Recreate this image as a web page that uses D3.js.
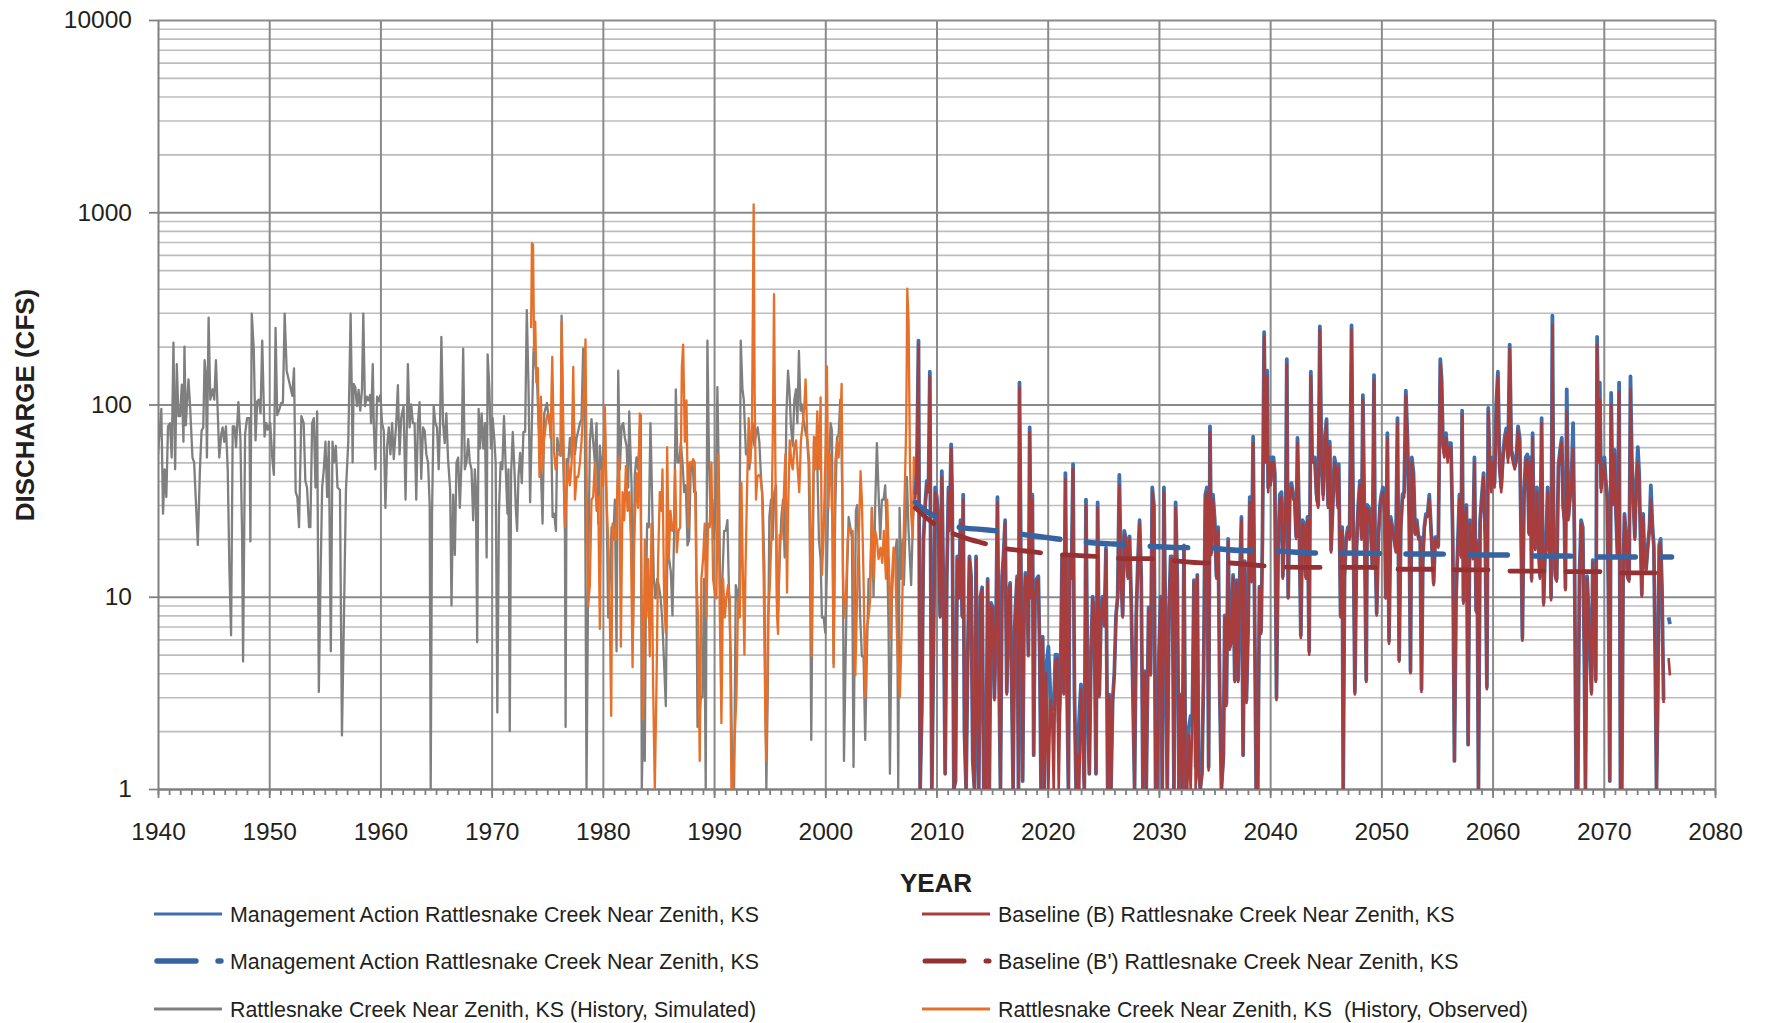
<!DOCTYPE html>
<html lang="en">
<head>
<meta charset="UTF-8">
<title>Rattlesnake Creek Near Zenith, KS - discharge</title>
<style>
    body { margin: 0; background: #fff; }
    svg { display: block; font-family: "Liberation Sans", Arial, sans-serif; }
</style>
</head>
<body>
<div id="chart"></div>
<script src="https://cdn.jsdelivr.net/npm/d3@7"></script>
<script>
// ---- data (monthly-ish flows, cfs) ----
const yTickValues = [1, 10, 100, 1000, 10000];
const xTickYears = [1940, 1950, 1960, 1970, 1980, 1990, 2000, 2010, 2020, 2030, 2040, 2050, 2060, 2070, 2080];

// Rattlesnake Creek Near Zenith, KS (History, Simulated)
const simulated = [
[1940.00,55],[1940.30,95],[1940.45,27],[1940.60,46],[1940.75,33],[1940.90,77],[1941.08,80],[1941.23,53],[1941.39,210],[1941.54,46],[1941.69,162],[1941.84,87],[1941.99,87],[1942.14,127],[1942.29,64],[1942.38,200],[1942.50,78],[1942.59,97],[1942.74,135],[1942.89,97],
[1943.10,53],[1943.25,50],[1943.40,32],[1943.58,18.6],[1943.77,46],[1943.92,73],[1944.07,76],[1944.19,170],[1944.31,144],[1944.40,53],[1944.55,283],[1944.70,106],[1944.91,120],[1945.06,106],[1945.21,170],[1945.36,95],[1945.51,53],[1945.69,70],[1945.81,76],[1945.96,64],
[1946.11,77],[1946.27,46],[1946.42,14],[1946.57,6.3],[1946.72,77],[1946.87,77],[1947.02,60],[1947.23,103],[1947.41,66],[1947.56,21],[1947.65,4.6],[1947.83,70],[1948.01,85],[1948.22,85],[1948.31,19.4],[1948.43,297],[1948.61,195],[1948.77,65],[1948.92,104],[1949.07,106],
[1949.22,90],[1949.37,215],[1949.58,68],[1949.73,80],[1949.88,74],[1950.09,80],[1950.27,53],[1950.42,43],[1950.57,250],[1950.72,88],[1950.93,95],[1951.08,102],[1951.23,102],[1951.39,297],[1951.57,150],[1951.84,128],[1952.08,111],[1952.23,154],[1952.38,35],[1952.53,33],
[1952.68,23],[1952.89,87],[1953.10,80],[1953.25,40],[1953.40,37],[1953.58,23],[1953.70,23],[1953.86,80],[1954.01,85],[1954.16,37],[1954.31,92],[1954.46,3.2],[1954.61,12],[1954.76,37],[1954.91,46],[1955.06,64],[1955.21,33],[1955.36,64],[1955.54,5.2],[1955.69,64],
[1955.84,50],[1955.99,61],[1956.14,37],[1956.36,36],[1956.54,1.9],[1956.72,7.9],[1956.90,36],[1957.11,64],[1957.32,297],[1957.42,120],[1957.50,50],[1957.59,128],[1957.74,123],[1957.89,98],[1958.04,119],[1958.19,93],[1958.34,119],[1958.46,297],[1958.61,98],[1958.77,110],
[1958.92,105],[1959.07,112],[1959.16,80],[1959.31,162],[1959.40,80],[1959.55,46],[1959.70,110],[1959.85,104],[1960.00,112],[1960.15,80],[1960.30,73],[1960.45,29],[1960.60,60],[1960.75,76],[1960.90,55],[1961.05,80],[1961.20,52],[1961.42,80],[1961.57,126],[1961.72,55],
[1961.87,85],[1962.08,98],[1962.26,32],[1962.47,162],[1962.62,76],[1962.77,100],[1962.92,80],[1963.07,80],[1963.22,32],[1963.37,80],[1963.52,103],[1963.67,41],[1963.83,76],[1963.98,73],[1964.13,55],[1964.28,50],[1964.43,30],[1964.52,1],[1964.64,27],[1964.79,98],
[1964.94,80],[1965.09,76],[1965.24,46],[1965.36,80],[1965.48,225],[1965.63,80],[1965.78,63],[1965.93,90],[1966.08,52],[1966.27,36],[1966.39,9],[1966.54,34],[1966.69,16.5],[1966.84,50],[1966.99,53],[1967.14,29],[1967.29,50],[1967.44,195],[1967.59,46],[1967.74,50],
[1967.89,66],[1968.04,50],[1968.19,46],[1968.34,25],[1968.49,46],[1968.58,37],[1968.70,5.8],[1968.83,95],[1968.95,59],[1969.10,90],[1969.25,59],[1969.40,80],[1969.55,16],[1969.64,182],[1969.79,123],[1969.94,59],[1970.09,85],[1970.24,66],[1970.36,50],[1970.51,2.5],
[1970.66,28],[1970.81,50],[1970.96,46],[1971.11,87],[1971.27,46],[1971.42,27],[1971.51,46],[1971.63,2.0],[1971.75,44],[1971.90,72],[1972.05,46],[1972.17,29],[1972.29,22],[1972.41,42],[1972.56,56],[1972.71,39],[1972.86,72],[1973.01,72],[1973.16,310],[1973.31,128],
[1973.46,31],[1973.77,195],[1974.07,140],[1974.22,80],[1974.46,40],[1974.58,24],[1974.73,90],[1974.97,102],[1975.18,80],[1975.33,88],[1975.48,26],[1975.63,27],[1975.78,22],[1975.90,67],[1976.05,59],[1976.20,54],[1976.29,290],[1976.44,50],[1976.59,22],[1976.65,2.1],
[1976.74,52],[1976.89,50],[1977.04,67],[1977.19,53],[1977.34,106],[1977.49,55],[1977.64,67],[1977.79,73],[1977.94,80],[1978.08,84],[1978.23,195],[1978.38,80],[1978.53,1],[1978.68,12.4],[1978.83,64],[1978.98,84],[1979.13,64],[1979.28,50],[1979.43,80],[1979.58,24],
[1979.73,61],[1979.88,46],[1980.03,55],[1980.18,80],[1980.33,32],[1980.48,7.8],[1980.63,12.4],[1980.78,23],[1980.93,19.8],[1981.08,32],[1981.23,5.2],[1981.38,150],[1981.53,46],[1981.68,77],[1981.83,80],[1981.98,67],[1982.13,61],[1982.28,37],[1982.37,92],[1982.49,55],
[1982.58,38],[1982.72,7],[1982.87,43],[1983.02,53],[1983.17,46],[1983.32,73],[1983.41,88],[1983.50,1],[1983.62,2.3],[1983.77,1.4],[1983.86,8.5],[1983.98,24],[1984.13,23],[1984.28,80],[1984.43,32],[1984.58,12.4],[1984.73,9.8],[1984.88,12.4],[1985.03,11.5],[1985.18,10],
[1985.33,7.8],[1985.48,4.9],[1985.66,2.7],[1985.81,19.8],[1985.96,15.7],[1986.11,13.5],[1986.26,8],[1986.41,22],[1986.56,120],[1986.71,50],[1986.86,50],[1987.01,63],[1987.16,50],[1987.31,35],[1987.46,38],[1987.61,18.5],[1987.76,19.8],[1987.91,50],[1988.06,50],[1988.21,35],
[1988.36,35],[1988.51,2.1],[1988.66,2.3],[1988.81,3],[1988.96,3],[1989.10,12.4],[1989.25,1],[1989.40,215],[1989.55,50],[1989.70,24],[1989.85,32],[1990.00,20],[1990.15,29],[1990.30,123],[1990.45,35],[1990.60,6],[1990.75,12.4],[1990.90,22],[1991.05,22],[1991.20,25],
[1991.35,10],[1991.50,4.9],[1991.65,1],[1991.80,1],[1991.95,11.5],[1992.10,10.5],[1992.25,8],[1992.40,215],[1992.55,121],[1992.67,106],[1992.87,55],[1993.02,55],[1993.17,46],[1993.32,58],[1993.47,80],[1993.62,61],[1993.77,70],[1993.92,76],[1994.07,64],[1994.22,42],
[1994.37,32],[1994.52,14.5],[1994.61,3],[1994.70,1],[1994.82,3],[1994.97,26],[1995.12,32],[1995.27,19.8],[1995.42,35],[1995.57,38],[1995.66,9.5],[1995.75,8.2],[1995.90,15.7],[1996.05,26],[1996.20,32],[1996.35,16],[1996.50,88],[1996.65,150],[1996.77,120],[1996.92,76],
[1997.07,61],[1997.22,106],[1997.37,120],[1997.49,80],[1997.63,190],[1997.78,93],[1997.90,100],[1998.05,83],[1998.20,73],[1998.35,67],[1998.50,50],[1998.62,16],[1998.74,1.8],[1998.86,12.4],[1998.98,64],[1999.13,67],[1999.28,50],[1999.43,19.8],[1999.58,15.7],[1999.70,7.8],
[1999.85,7.8],[2000.00,6.5],[2000.15,14],[2000.30,44],[2000.48,80],[2000.60,73],[2000.75,4.5],[2000.90,29],[2001.05,67],[2001.20,70],[2001.35,106],[2001.44,70],[2001.56,26],[2001.68,1.4],[2001.80,3.9],[2001.95,12.4],[2002.10,26],[2002.25,23],[2002.40,20],[2002.54,1.3],
[2002.63,4.9],[2002.75,28],[2002.87,30],[2002.99,20],[2003.14,7.8],[2003.29,4.9],[2003.44,4.9],[2003.59,1.8],[2003.74,4.9],[2003.89,12.4],[2004.04,12.4],[2004.19,29],[2004.34,10],[2004.49,30],[2004.64,63],[2004.79,35],[2004.94,20],[2005.09,32],[2005.24,32],[2005.39,38],
[2005.54,20],[2005.69,6.8],[2005.81,1.2],[2005.99,9.8],[2006.14,15.7],[2006.29,17.5],[2006.44,19.8],[2006.56,1],[2006.68,29],[2006.83,12.4],[2006.98,19.8],[2007.07,11.5],[2007.19,19.8],[2007.34,42],[2007.49,22],[2007.72,11.5],[2007.87,24],[2007.99,32]
];

// Rattlesnake Creek Near Zenith, KS (History, Observed)
const observed = [
[1973.55,250],[1973.62,690],[1973.72,680],[1973.82,190],[1973.92,270],[1974.02,130],[1974.15,155],[1974.30,42],[1974.43,110],[1974.58,46],[1974.70,64],[1974.88,80],[1975.00,88],[1975.18,88],[1975.30,67],[1975.45,177],[1975.60,58],[1975.75,46],[1975.90,55],[1976.05,55],
[1976.20,55],[1976.29,270],[1976.44,80],[1976.59,23],[1976.74,35],[1976.89,49],[1977.04,38],[1977.19,50],[1977.34,157],[1977.49,32],[1977.64,42],[1977.79,42],[1977.94,50],[1978.08,64],[1978.23,92],[1978.44,218],[1978.59,19.8],[1978.68,9],[1978.83,11.5],[1978.98,32],
[1979.13,33],[1979.28,50],[1979.43,28],[1979.58,33],[1979.73,6.8],[1979.88,46],[1980.03,38],[1980.18,97],[1980.33,32],[1980.48,19.8],[1980.63,7.8],[1980.75,2.4],[1980.87,24],[1981.02,22],[1981.17,19.8],[1981.32,38],[1981.47,53],[1981.62,5.5],[1981.77,35],[1981.92,25],
[1982.07,48],[1982.22,28],[1982.37,35],[1982.52,19.8],[1982.67,4.3],[1982.82,19.8],[1983.02,44],[1983.17,29],[1983.32,90],[1983.47,12.4],[1983.62,2.3],[1983.77,19.8],[1983.92,7.8],[1984.07,15.7],[1984.22,4.9],[1984.37,24],[1984.52,3.4],[1984.67,1],[1984.82,3.4],[1984.97,15.7],
[1985.12,35],[1985.27,28],[1985.36,46],[1985.51,9.8],[1985.66,6.5],[1985.78,60],[1985.93,15.7],[1986.08,28],[1986.23,22],[1986.38,23],[1986.50,46],[1986.65,17],[1986.80,22],[1986.95,23],[1987.10,155],[1987.22,205],[1987.37,64],[1987.52,105],[1987.67,23],[1987.81,50],
[1987.96,48],[1988.11,52],[1988.26,50],[1988.41,12.4],[1988.56,7.8],[1988.71,1.4],[1988.86,12.4],[1989.01,15.7],[1989.16,24],[1989.31,7.8],[1989.46,24],[1989.61,23],[1989.76,50],[1989.91,12.4],[1990.06,10.5],[1990.21,9.8],[1990.36,55],[1990.51,8.5],[1990.66,2.2],[1990.81,12.4],
[1990.96,7.8],[1991.11,9.8],[1991.26,11.5],[1991.41,9.8],[1991.56,1],[1991.71,1],[1991.86,1.9],[1992.01,3],[1992.16,9.8],[1992.31,7.8],[1992.46,39],[1992.61,11],[1992.73,5],[1992.81,12.4],[1992.96,35],[1993.11,85],[1993.26,50],[1993.41,80],[1993.56,1100],[1993.65,110],
[1993.77,32],[1993.89,42],[1994.01,43],[1994.16,42],[1994.31,35],[1994.46,12.4],[1994.61,2.4],[1994.70,1.4],[1994.85,7.8],[1995.00,11],[1995.15,20],[1995.30,85],[1995.39,375],[1995.51,50],[1995.66,8],[1995.75,6.4],[1995.90,21],[1996.05,20],[1996.26,32],[1996.41,55],
[1996.56,10.5],[1996.65,27],[1996.80,65],[1996.95,50],[1997.07,46],[1997.22,60],[1997.37,65],[1997.52,46],[1997.66,35],[1997.81,65],[1997.96,78],[1998.11,97],[1998.23,135],[1998.38,68],[1998.56,50],[1998.68,19.8],[1998.77,4.9],[1998.86,19.8],[1998.98,68],[1999.13,46],
[1999.28,92],[1999.43,46],[1999.58,109],[1999.70,13],[1999.85,21],[2000.00,50],[2000.15,158],[2000.27,29],[2000.42,55],[2000.54,38],[2000.63,25],[2000.75,4.3],[2000.90,50],[2001.05,64],[2001.20,53],[2001.35,78],[2001.47,128],[2001.59,13],[2001.71,7.8],[2001.86,10],
[2002.01,19.8],[2002.16,23],[2002.31,22],[2002.46,22],[2002.58,10.5],[2002.70,3.9],[2002.87,10.5],[2003.02,21],[2003.17,45],[2003.29,32],[2003.44,12.4],[2003.59,3],[2003.74,7],[2003.89,7.8],[2004.04,9.8],[2004.19,29],[2004.37,12.4],[2004.49,22],[2004.64,19.8],[2004.79,15.7],
[2004.97,18],[2005.12,15],[2005.27,22],[2005.45,12.4],[2005.57,32],[2005.75,12.4],[2005.87,6.1],[2005.99,12.4],[2006.14,18],[2006.29,15.5],[2006.44,6.4],[2006.59,3.9],[2006.71,3],[2006.89,7.8],[2007.04,20],[2007.19,46],[2007.28,80],[2007.37,400],[2007.49,270],[2007.61,50],
[2007.72,27],[2007.87,20],[2007.96,53],[2008.08,38]
];

// Baseline (B) Rattlesnake Creek Near Zenith, KS
const baseline = [
[2008.08,32],[2008.23,42],[2008.38,204],[2008.53,1],[2008.68,2.5],[2008.83,19.8],[2008.98,29],[2009.13,38],[2009.28,35],[2009.40,140],[2009.50,7.8],[2009.58,1],[2009.73,5.2],[2009.88,35],[2010.03,31],[2010.18,22],[2010.33,7.8],[2010.48,42],[2010.63,9.8],[2010.78,1.2],
[2010.93,12.4],[2011.08,35],[2011.17,22],[2011.32,59],[2011.41,32],[2011.56,1],[2011.71,1.1],[2011.86,15.7],[2012.01,9.8],[2012.16,24],[2012.31,7.8],[2012.40,32],[2012.51,1.95],[2012.66,1],[2012.81,4.9],[2012.96,15.7],[2013.11,12.4],[2013.26,1.4],[2013.41,1],[2013.56,15.7],
[2013.65,3],[2013.80,1],[2013.95,9.8],[2014.10,10.9],[2014.25,1],[2014.46,1],[2014.60,12],[2014.75,1],[2014.90,9],[2015.06,8.5],[2015.21,2.9],[2015.36,7.8],[2015.48,31],[2015.60,4.9],[2015.75,1],[2015.90,12.4],[2016.02,15.7],[2016.17,24],[2016.32,3.1],[2016.47,9.8],
[2016.62,11.5],[2016.77,3.1],[2016.89,1],[2017.01,6.1],[2017.10,8.5],[2017.25,12.4],[2017.37,1],[2017.46,123],[2017.60,12.4],[2017.75,1.1],[2017.87,7.8],[2017.99,12.9],[2018.14,12.4],[2018.26,4.9],[2018.38,72],[2018.50,9.8],[2018.62,32],[2018.74,1.5],[2018.86,9.8],[2019.01,12],
[2019.16,12.4],[2019.28,4.9],[2019.40,1],[2019.55,6],[2019.70,1],[2019.85,4],[2020.06,1],[2020.24,2.9],[2020.39,2.5],[2020.54,1],[2020.69,4.6],[2020.84,4.8],[2020.99,1],[2021.14,3.2],[2021.29,16],[2021.44,3.1],[2021.59,41],[2021.74,3.1],[2021.86,1],[2021.98,15.7],
[2022.13,12.4],[2022.28,46],[2022.40,3.2],[2022.55,1],[2022.70,1.5],[2022.84,1],[2022.99,3.3],[2023.14,1.9],[2023.29,1],[2023.44,30],[2023.59,3],[2023.74,1.2],[2023.89,4.9],[2024.04,9.8],[2024.19,7.8],[2024.34,1.2],[2024.49,29],[2024.64,3],[2024.79,7.8],[2024.94,9.8],
[2025.09,7],[2025.24,17.5],[2025.39,1],[2025.54,3],[2025.69,1],[2025.84,2.8],[2025.99,3.9],[2026.14,7.8],[2026.29,9.8],[2026.44,38],[2026.59,12.4],[2026.74,7.8],[2026.89,21],[2027.06,19],[2027.21,12.4],[2027.36,20],[2027.51,9.2],[2027.66,3.05],[2027.81,1],[2027.96,7.8],
[2028.11,15],[2028.26,24],[2028.41,12.4],[2028.56,1],[2028.71,4],[2028.86,1],[2029.07,8.5],[2029.25,3.9],[2029.40,35],[2029.55,29],[2029.70,1],[2029.85,1],[2030.00,4.9],[2030.15,9.8],[2030.30,1],[2030.45,35],[2030.60,6.1],[2030.75,1],[2030.90,7.8],[2031.05,15.7],
[2031.20,15.7],[2031.35,1],[2031.50,29],[2031.65,12.4],[2031.80,1],[2031.95,3.05],[2032.10,1],[2032.25,18],[2032.40,1],[2032.55,1],[2032.70,1.9],[2032.85,1],[2033.00,2.2],[2033.15,11.9],[2033.30,1],[2033.45,12.7],[2033.57,1.2],[2033.72,1],[2033.87,1.2],[2034.02,4.1],
[2034.17,32],[2034.32,35],[2034.47,1.25],[2034.59,72],[2034.71,16.5],[2034.86,32],[2035.02,24],[2035.17,12.4],[2035.32,22],[2035.47,3.05],[2035.62,1],[2035.80,1.4],[2035.92,7.8],[2036.07,2.7],[2036.22,19.4],[2036.37,5.3],[2036.52,5.8],[2036.67,12.6],[2036.82,3.6],[2036.97,11.9],
[2037.12,3.6],[2037.27,12.4],[2037.42,25],[2037.57,1.5],[2037.72,14.9],[2037.87,2.8],[2038.02,6.7],[2038.17,31],[2038.32,11.9],[2038.47,63],[2038.62,6.5],[2038.74,1],[2038.89,1],[2039.04,11],[2039.19,6.4],[2039.31,19.8],[2039.46,224],[2039.58,50],[2039.73,140],[2039.82,35],
[2039.94,50],[2040.06,38],[2040.18,50],[2040.30,50],[2040.42,42],[2040.57,2.9],[2040.72,17],[2040.87,32],[2041.02,33],[2041.14,12.4],[2041.26,19.8],[2041.41,32],[2041.50,162],[2041.62,9.8],[2041.77,32],[2041.92,37],[2042.07,32],[2042.19,32],[2042.34,20],[2042.46,63],
[2042.61,24],[2042.76,6.1],[2042.91,24],[2043.06,23],[2043.21,12.4],[2043.36,25],[2043.51,5],[2043.66,140],[2043.78,50],[2043.93,50],[2044.02,50],[2044.17,32],[2044.32,29],[2044.47,245],[2044.62,50],[2044.77,32],[2044.92,63],[2045.07,80],[2045.21,29],[2045.36,61],
[2045.48,17],[2045.63,29],[2045.78,50],[2045.93,46],[2046.08,29],[2046.17,47],[2046.33,7.8],[2046.48,22],[2046.57,1],[2046.69,12.4],[2046.84,19.8],[2046.99,22],[2047.14,19.8],[2047.32,245],[2047.47,24],[2047.62,3.1],[2047.77,17.5],[2047.92,29],[2048.07,38],[2048.22,19.8],
[2048.34,106],[2048.49,22],[2048.64,3.6],[2048.73,29],[2048.89,28],[2049.04,22],[2049.19,14],[2049.34,134],[2049.43,19.8],[2049.58,8],[2049.73,19.8],[2049.88,29],[2050.00,32],[2050.15,35],[2050.30,26],[2050.39,9.8],[2050.54,67],[2050.69,5.7],[2050.84,25],[2050.99,22],
[2051.14,19.8],[2051.30,17],[2051.45,80],[2051.60,4.6],[2051.75,22],[2051.90,32],[2052.05,33],[2052.20,111],[2052.35,64],[2052.50,25],[2052.62,4],[2052.74,50],[2052.89,42],[2053.04,21],[2053.19,24],[2053.34,19.8],[2053.49,19.8],[2053.61,3.2],[2053.73,15],[2053.86,22],
[2054.01,26],[2054.16,26],[2054.31,32],[2054.46,22],[2054.61,15],[2054.70,11.5],[2054.85,19.8],[2055.00,19.8],[2055.12,18],[2055.30,162],[2055.42,128],[2055.54,60],[2055.66,53],[2055.81,67],[2055.96,50],[2056.11,60],[2056.26,60],[2056.42,19.8],[2056.57,1.4],[2056.72,9.8],
[2056.87,18],[2057.02,32],[2057.17,16],[2057.26,88],[2057.38,9.2],[2057.53,26],[2057.65,29],[2057.80,1.7],[2057.95,24],[2058.07,19],[2058.22,15.7],[2058.37,50],[2058.52,8.3],[2058.61,19],[2058.73,1],[2058.88,24],[2059.04,32],[2059.19,42],[2059.34,19.8],[2059.49,3.3],
[2059.61,91],[2059.73,50],[2059.88,35],[2060.03,50],[2060.18,37],[2060.33,95],[2060.48,140],[2060.63,46],[2060.78,35],[2060.93,50],[2061.08,64],[2061.23,71],[2061.39,50],[2061.54,195],[2061.69,55],[2061.84,50],[2061.99,46],[2062.14,50],[2062.29,73],[2062.44,64],
[2062.59,16],[2062.68,5.9],[2062.83,32],[2062.98,50],[2063.13,52],[2063.27,21],[2063.39,50],[2063.51,12],[2063.60,67],[2063.72,19.8],[2063.84,17.5],[2063.99,35],[2064.11,19],[2064.26,12.4],[2064.41,80],[2064.50,19.8],[2064.59,9],[2064.71,15.7],[2064.83,19.8],[2064.95,35],
[2065.05,17],[2065.17,24],[2065.26,9.6],[2065.38,258],[2065.50,19.8],[2065.65,12.4],[2065.77,12],[2065.92,46],[2066.07,55],[2066.22,64],[2066.34,29],[2066.46,24],[2066.55,10.8],[2066.67,92],[2066.82,25],[2066.97,32],[2067.09,38],[2067.24,59],[2067.36,19.8],[2067.51,1],
[2067.66,1],[2067.81,12.4],[2067.96,24],[2068.11,22],[2068.26,4.2],[2068.35,1],[2068.50,12.4],[2068.65,7.8],[2068.77,4.9],[2068.89,3.1],[2069.01,15],[2069.16,10.5],[2069.28,3.6],[2069.40,204],[2069.52,50],[2069.64,106],[2069.76,35],[2069.91,43],[2070.06,50],[2070.18,38],
[2070.30,32],[2070.42,9.8],[2070.54,1.1],[2070.66,100],[2070.81,30],[2070.96,55],[2071.08,28],[2071.23,16],[2071.38,116],[2071.50,1],[2071.62,1],[2071.74,12.4],[2071.86,26],[2072.01,19.8],[2072.13,12.4],[2072.28,12],[2072.40,120],[2072.52,50],[2072.64,32],[2072.79,19.8],
[2072.91,35],[2073.06,50],[2073.18,42],[2073.30,19.8],[2073.42,10],[2073.54,26],[2073.66,15.5],[2073.81,13.5],[2073.96,18],[2074.11,22],[2074.23,32],[2074.38,22],[2074.50,18],[2074.62,4.9],[2074.74,1],[2074.86,3.05],[2074.98,18],[2075.11,19],[2075.23,11],[2075.38,2.8],
[2075.60,null],[2075.83,4.8],[2075.95,3.9]
];

// Management Action Rattlesnake Creek Near Zenith, KS
const action = [
[2008.08,34],[2008.23,44],[2008.38,215],[2008.53,1],[2008.68,2.6],[2008.83,20],[2008.98,30],[2009.13,40],[2009.28,37],[2009.40,148],[2009.50,8],[2009.58,1],[2009.73,5.4],[2009.88,37],[2010.03,33],[2010.18,23],[2010.33,8],[2010.48,45],[2010.63,10],[2010.78,1.2],
[2010.93,12.8],[2011.08,37],[2011.17,23],[2011.32,62],[2011.41,34],[2011.56,1],[2011.71,1.1],[2011.86,16.2],[2012.01,10],[2012.16,25],[2012.31,8],[2012.40,34],[2012.51,2],[2012.66,1],[2012.81,5],[2012.96,16.2],[2013.11,12.8],[2013.26,1.4],[2013.41,1],[2013.56,16.2],
[2013.65,3.1],[2013.80,1],[2013.95,10],[2014.10,11.2],[2014.25,1],[2014.46,1],[2014.60,12.4],[2014.75,1],[2014.90,9.3],[2015.06,8.8],[2015.21,3],[2015.36,8],[2015.48,33],[2015.60,5],[2015.75,1],[2015.90,12.8],[2016.02,16.2],[2016.17,25],[2016.32,3.2],[2016.47,10],
[2016.62,11.8],[2016.77,3.2],[2016.89,1],[2017.01,6.3],[2017.10,8.8],[2017.25,12.8],[2017.37,1],[2017.46,130],[2017.60,12.8],[2017.75,1.1],[2017.87,8],[2017.99,13.3],[2018.14,12.8],[2018.26,5],[2018.38,76],[2018.50,10],[2018.62,34],[2018.74,1.5],[2018.86,10],[2019.01,12.4],
[2019.16,12.8],[2019.28,5],[2019.40,1],[2019.55,6.2],[2019.70,1],[2019.85,4.2],[2020.06,5.5],[2020.24,3.1],[2020.39,2.7],[2020.54,2.6],[2020.69,5],[2020.84,5],[2020.99,2.2],[2021.14,3.4],[2021.29,16.5],[2021.44,3.2],[2021.59,44],[2021.74,3.2],[2021.86,1],[2021.98,16.2],
[2022.13,12.8],[2022.28,49],[2022.40,3.3],[2022.55,1],[2022.70,1.6],[2022.84,2.4],[2022.99,3.5],[2023.14,2.2],[2023.29,1],[2023.44,32],[2023.59,3.1],[2023.74,1.2],[2023.89,5],[2024.04,10],[2024.19,8],[2024.34,1.2],[2024.49,31],[2024.64,3.1],[2024.79,8],[2024.94,10],
[2025.09,7.2],[2025.24,18],[2025.39,1],[2025.54,3.1],[2025.69,1],[2025.84,2.9],[2025.99,4],[2026.14,8],[2026.29,10],[2026.44,43],[2026.59,12.8],[2026.74,8],[2026.89,22],[2027.06,19.6],[2027.21,12.8],[2027.36,20.6],[2027.51,9.5],[2027.66,3.1],[2027.81,1],[2027.96,8],
[2028.11,15.5],[2028.26,25],[2028.41,12.8],[2028.56,1],[2028.71,4.1],[2028.86,1],[2029.07,8.8],[2029.25,4],[2029.40,37],[2029.55,30],[2029.70,1],[2029.85,1],[2030.00,5],[2030.15,10],[2030.30,1],[2030.45,37],[2030.60,6.3],[2030.75,1],[2030.90,8],[2031.05,16.2],
[2031.20,16.2],[2031.35,1],[2031.50,31],[2031.65,12.8],[2031.80,1],[2031.95,3.1],[2032.10,1],[2032.25,18.5],[2032.40,1],[2032.55,1.3],[2032.70,2.1],[2032.85,2.4],[2033.00,2.3],[2033.15,12.2],[2033.30,1.3],[2033.45,13],[2033.57,1.2],[2033.72,1],[2033.87,1.2],[2034.02,4.2],
[2034.17,34],[2034.32,37],[2034.47,1.3],[2034.59,77],[2034.71,17],[2034.86,34],[2035.02,25],[2035.17,12.8],[2035.32,23],[2035.47,3.1],[2035.62,1],[2035.80,1.5],[2035.92,8],[2036.07,2.8],[2036.22,20],[2036.37,5.5],[2036.52,6],[2036.67,13],[2036.82,3.7],[2036.97,12.2],
[2037.12,3.7],[2037.27,12.8],[2037.42,26],[2037.57,1.5],[2037.72,15.3],[2037.87,2.9],[2038.02,6.9],[2038.17,33],[2038.32,12.2],[2038.47,68],[2038.62,6.7],[2038.74,1],[2038.89,1],[2039.04,11.3],[2039.19,6.6],[2039.31,20.4],[2039.46,238],[2039.58,53],[2039.73,150],[2039.82,37],
[2039.94,53],[2040.06,40],[2040.18,53],[2040.30,53],[2040.42,44],[2040.57,3],[2040.72,17.5],[2040.87,34],[2041.02,35],[2041.14,12.8],[2041.26,20.4],[2041.41,34],[2041.50,172],[2041.62,10],[2041.77,34],[2041.92,39],[2042.07,34],[2042.19,34],[2042.34,20.6],[2042.46,67],
[2042.61,25],[2042.76,6.3],[2042.91,25],[2043.06,24],[2043.21,12.8],[2043.36,26],[2043.51,5.2],[2043.66,148],[2043.78,53],[2043.93,53],[2044.02,53],[2044.17,34],[2044.32,30],[2044.47,255],[2044.62,53],[2044.77,34],[2044.92,67],[2045.07,84],[2045.21,30],[2045.36,64],
[2045.48,17.5],[2045.63,30],[2045.78,53],[2045.93,48],[2046.08,30],[2046.17,49],[2046.33,8],[2046.48,23],[2046.57,1],[2046.69,12.8],[2046.84,20.4],[2046.99,23],[2047.14,20.4],[2047.32,258],[2047.47,25],[2047.62,3.2],[2047.77,18],[2047.92,30],[2048.07,40],[2048.22,20.4],
[2048.34,112],[2048.49,23],[2048.64,3.7],[2048.73,30],[2048.89,29],[2049.04,23],[2049.19,14.4],[2049.34,142],[2049.43,20.4],[2049.58,8.2],[2049.73,20.4],[2049.88,30],[2050.00,34],[2050.15,37],[2050.30,27],[2050.39,10],[2050.54,71],[2050.69,5.9],[2050.84,26],[2050.99,23],
[2051.14,20.4],[2051.30,17.5],[2051.45,85],[2051.60,4.7],[2051.75,23],[2051.90,34],[2052.05,35],[2052.20,118],[2052.35,67],[2052.50,26],[2052.62,4.1],[2052.74,53],[2052.89,44],[2053.04,21.6],[2053.19,25],[2053.34,20.4],[2053.49,20.4],[2053.61,3.3],[2053.73,15.5],[2053.86,23],
[2054.01,27],[2054.16,27],[2054.31,34],[2054.46,23],[2054.61,15.5],[2054.70,11.8],[2054.85,20.4],[2055.00,20.4],[2055.12,18.5],[2055.30,172],[2055.42,135],[2055.54,63],[2055.66,56],[2055.81,71],[2055.96,53],[2056.11,63],[2056.26,63],[2056.42,20.4],[2056.57,1.4],[2056.72,10],
[2056.87,18.5],[2057.02,34],[2057.17,16.5],[2057.26,93],[2057.38,9.5],[2057.53,27],[2057.65,30],[2057.80,1.7],[2057.95,25],[2058.07,19.6],[2058.22,16.2],[2058.37,53],[2058.52,8.5],[2058.61,19.6],[2058.73,1],[2058.88,25],[2059.04,34],[2059.19,44],[2059.34,20.4],[2059.49,3.4],
[2059.61,96],[2059.73,53],[2059.88,37],[2060.03,53],[2060.18,39],[2060.33,100],[2060.48,148],[2060.63,48],[2060.78,37],[2060.93,53],[2061.08,67],[2061.23,75],[2061.39,53],[2061.54,205],[2061.69,58],[2061.84,53],[2061.99,48],[2062.14,53],[2062.29,77],[2062.44,67],
[2062.59,16.5],[2062.68,6.1],[2062.83,34],[2062.98,53],[2063.13,55],[2063.27,21.6],[2063.39,53],[2063.51,12.4],[2063.60,71],[2063.72,20.4],[2063.84,18],[2063.99,37],[2064.11,19.6],[2064.26,12.8],[2064.41,85],[2064.50,20.4],[2064.59,9.3],[2064.71,16.2],[2064.83,20.4],[2064.95,37],
[2065.05,17.5],[2065.17,25],[2065.26,9.9],[2065.38,290],[2065.50,20.4],[2065.65,12.8],[2065.77,12.4],[2065.92,48],[2066.07,58],[2066.22,67],[2066.34,30],[2066.46,25],[2066.55,11.1],[2066.67,120],[2066.82,26],[2066.97,34],[2067.09,40],[2067.24,80],[2067.36,20.4],[2067.51,1],
[2067.66,1],[2067.81,12.8],[2067.96,25],[2068.11,23],[2068.26,4.3],[2068.35,1],[2068.50,12.8],[2068.65,8],[2068.77,5],[2068.89,3.2],[2069.01,15.5],[2069.16,10.8],[2069.28,3.7],[2069.40,225],[2069.52,53],[2069.64,130],[2069.76,37],[2069.91,45],[2070.06,53],[2070.18,40],
[2070.30,34],[2070.42,10],[2070.54,1.1],[2070.66,115],[2070.81,31],[2070.96,58],[2071.08,29],[2071.23,16.5],[2071.38,130],[2071.50,1],[2071.62,1],[2071.74,12.8],[2071.86,27],[2072.01,20.4],[2072.13,12.8],[2072.28,12.4],[2072.40,140],[2072.52,53],[2072.64,34],[2072.79,20.4],
[2072.91,37],[2073.06,60],[2073.18,44],[2073.30,20.4],[2073.42,10.3],[2073.54,27],[2073.66,16],[2073.81,14],[2073.96,18.5],[2074.11,23],[2074.23,38],[2074.38,23],[2074.50,18.5],[2074.62,5],[2074.74,1],[2074.86,3.1],[2074.98,18.5],[2075.11,20],[2075.23,11.3],[2075.38,2.9],
[2075.60,null],[2075.83,7.8],[2075.95,7.2]
];

// Management Action (dashed) and Baseline (B') trend lines
const actionTrend = [
[2008.1,31],[2009,28],[2010,26],[2011,24],[2012,23],[2014,22.4],[2016,21.8],[2018,21],[2020,20.3],[2022,19.6],[2024,19.1],[2026,18.8],[2028,18.5],[2030,18.2],[2032,18],[2034.4,18],[2036,17.6],[2038.3,17.3],[2040,17.3],[2044,16.9],
[2046,16.9],[2050,16.8],[2052,16.7],[2055,16.7],[2057,16.5],[2061,16.5],[2063,16.3],[2066.6,16.3],[2068.4,16.1],[2072.3,16.1],[2076.1,16.1]
];
const baselineTrend = [
[2008.1,29],[2009,26],[2010,23.5],[2010.9,22],[2012.5,20.3],[2014.2,19],[2015.7,18],[2017.5,17.4],[2019.1,17],[2020.8,16.6],[2022.5,16.4],[2024.3,16.2],[2026.9,15.8],[2029.2,15.8],[2030.8,15.5],[2034.3,15],[2035.9,15],[2039.3,14.5],[2040.9,14.3],[2044.3,14.2],
[2045.7,14.2],[2049.3,14.2],[2050.8,13.9],[2054.4,13.9],[2055.9,13.8],[2059.5,13.8],[2061,13.6],[2064.5,13.6],[2066.1,13.5],[2069.5,13.5],[2071.1,13.3],[2074.6,13.3]
];

const legendLabels = [
    'Management Action Rattlesnake Creek Near Zenith, KS',
    'Management Action Rattlesnake Creek Near Zenith, KS',
    'Rattlesnake Creek Near Zenith, KS (History, Simulated)',
    'Baseline (B) Rattlesnake Creek Near Zenith, KS',
    "Baseline (B') Rattlesnake Creek Near Zenith, KS",
    'Rattlesnake Creek Near Zenith, KS  (History, Observed)'
];

// ---- layout ----
const width = 1767, height = 1023;
const plot = { left: 158, right: 1715, top: 20, bottom: 789 };

const svg = d3.select('#chart').append('svg')
    .attr('width', width)
    .attr('height', height);

const x = d3.scaleLinear().domain([1940, 2080]).range([plot.left, plot.right]);
const y = d3.scaleLog().domain([1, 10000]).range([plot.bottom, plot.top]);

// minor gridlines at 2..9 x 10^k
const minorValues = [];
[1, 10, 100, 1000].forEach(p => d3.range(2, 10).forEach(m => minorValues.push(m * p)));

const grid = svg.append('g').attr('class', 'grid');
grid.append('g')
    .attr('transform', `translate(${plot.left},0)`)
    .call(d3.axisLeft(y).tickValues(minorValues).tickSize(-(plot.right - plot.left)).tickFormat(''))
    .call(g => g.select('.domain').remove())
    .call(g => g.selectAll('line').attr('stroke', '#bdbdbd').attr('stroke-width', 1.6));
grid.append('g')
    .attr('transform', `translate(${plot.left},0)`)
    .call(d3.axisLeft(y).tickValues(yTickValues.slice(1)).tickSize(-(plot.right - plot.left)).tickFormat(''))
    .call(g => g.select('.domain').remove())
    .call(g => g.selectAll('line').attr('stroke', '#8a8a8a').attr('stroke-width', 2));
grid.append('g')
    .attr('transform', `translate(0,${plot.bottom})`)
    .call(d3.axisBottom(x).tickValues(xTickYears.slice(1)).tickSize(-(plot.bottom - plot.top)).tickFormat(''))
    .call(g => g.select('.domain').remove())
    .call(g => g.selectAll('line').attr('stroke', '#8a8a8a').attr('stroke-width', 2));

// axes
const axisColor = '#808080';
const yAxis = svg.append('g')
    .attr('transform', `translate(${plot.left},0)`)
    .call(d3.axisLeft(y).tickValues(yTickValues).tickSize(9).tickSizeOuter(0).tickPadding(17).tickFormat(d3.format('d')));
const xMinor = svg.append('g')
    .attr('transform', `translate(0,${plot.bottom})`)
    .call(d3.axisBottom(x).tickValues(d3.range(1940, 2081)).tickSize(6).tickSizeOuter(0).tickFormat(''));
const xAxis = svg.append('g')
    .attr('transform', `translate(0,${plot.bottom})`)
    .call(d3.axisBottom(x).tickValues(xTickYears).tickSize(9).tickSizeOuter(0).tickPadding(25).tickFormat(d => d));

[yAxis, xMinor, xAxis].forEach(a => {
    a.selectAll('.domain').attr('stroke', axisColor).attr('stroke-width', 2);
    a.selectAll('line').attr('stroke', axisColor).attr('stroke-width', 1.8);
    a.selectAll('text')
        .attr('font-family', '"Liberation Sans", Arial, sans-serif')
        .attr('font-size', 24.5)
        .attr('fill', '#231f20');
});

// series
svg.append('defs').append('clipPath').attr('id', 'plot-clip')
    .append('rect')
    .attr('x', plot.left).attr('y', plot.top)
    .attr('width', plot.right - plot.left).attr('height', plot.bottom - plot.top);

const line = d3.line()
    .defined(d => d[1] != null)
    .x(d => x(d[0]))
    .y(d => y(Math.max(d[1], 1)));

const series = svg.append('g').attr('clip-path', 'url(#plot-clip)')
    .attr('fill', 'none')
    .attr('stroke-linejoin', 'round');

series.append('path').datum(simulated).attr('d', line)
    .attr('stroke', '#7f7f7f').attr('stroke-width', 2.3);
series.append('path').datum(observed).attr('d', line)
    .attr('stroke', '#e6702a').attr('stroke-width', 2.3);
series.append('path').datum(action).attr('d', line)
    .attr('stroke', '#3f6fad').attr('stroke-width', 3.8);
series.append('path').datum(baseline).attr('d', line)
    .attr('stroke', '#a83d3d').attr('stroke-width', 2.6);

const trendLine = d3.line().curve(d3.curveMonotoneX).x(d => x(d[0])).y(d => y(d[1]));
series.append('path').datum(actionTrend).attr('d', trendLine)
    .attr('stroke', '#3764a0').attr('stroke-width', 5.4)
    .attr('stroke-linecap', 'round')
    .attr('stroke-dasharray', '37.5 26.5')
    .attr('stroke-dashoffset', 13);
series.append('path').datum(baselineTrend).attr('d', trendLine)
    .attr('stroke', '#973030').attr('stroke-width', 4.8)
    .attr('stroke-linecap', 'round')
    .attr('stroke-dasharray', '34 22')
    .attr('stroke-dashoffset', 10);

// axis titles
svg.append('text')
    .attr('x', 936).attr('y', 892)
    .attr('text-anchor', 'middle')
    .attr('font-size', 26).attr('font-weight', 'bold')
    .attr('fill', '#231f20')
    .text('YEAR');
svg.append('text')
    .attr('transform', 'translate(34,405) rotate(-90)')
    .attr('text-anchor', 'middle')
    .attr('font-size', 26).attr('font-weight', 'bold')
    .attr('fill', '#231f20')
    .text('DISCHARGE (CFS)');

// legend
const legendStyles = [
    { color: '#3f6fad', width: 3, dashed: false },
    { color: '#3764a0', width: 5.4, dashed: true },
    { color: '#7f7f7f', width: 3, dashed: false },
    { color: '#a83d3d', width: 3, dashed: false },
    { color: '#973030', width: 5, dashed: true },
    { color: '#e6702a', width: 3, dashed: false }
];
const legendCols = [154, 922];
const legendRows = [914, 961, 1009];

const legend = svg.append('g').attr('class', 'legend');
legendLabels.forEach((label, i) => {
    const col = Math.floor(i / 3), row = i % 3;
    const lx = legendCols[col], ly = legendRows[row];
    const st = legendStyles[i];
    const item = legend.append('g');
    if (st.dashed) {
        item.append('line')
            .attr('x1', lx + 3).attr('x2', lx + 42).attr('y1', ly).attr('y2', ly)
            .attr('stroke', st.color).attr('stroke-width', st.width).attr('stroke-linecap', 'round');
        item.append('line')
            .attr('x1', lx + 64).attr('x2', lx + 67).attr('y1', ly).attr('y2', ly)
            .attr('stroke', st.color).attr('stroke-width', st.width).attr('stroke-linecap', 'round');
    } else {
        item.append('line')
            .attr('x1', lx).attr('x2', lx + 68).attr('y1', ly).attr('y2', ly)
            .attr('stroke', st.color).attr('stroke-width', st.width);
    }
    item.append('text')
        .attr('x', lx + 76).attr('y', ly + 7.5)
        .attr('font-size', 21.4)
        .attr('fill', '#231f20')
        .style('white-space', 'pre')
        .text(label);
});
</script>
</body>
</html>
